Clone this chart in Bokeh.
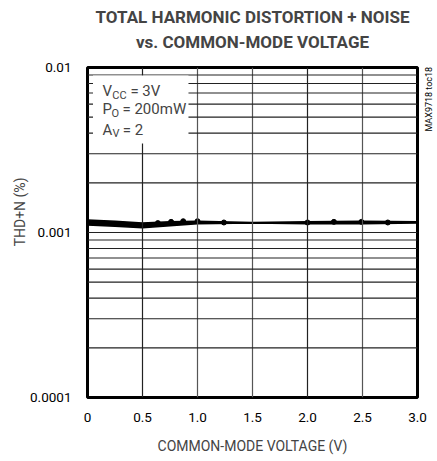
import math
from bokeh.plotting import figure
from bokeh.models import (FixedTicker, Label, BoxAnnotation, Span, Range1d, Title, LogAxis)
from bokeh.embed import file_html
from bokeh.resources import INLINE

# ---- data ----
vcm = [0.0, 0.25, 0.5, 0.75, 1.0, 1.5, 2.0, 2.5, 3.0]
thd_upper = [0.00119, 0.00117, 0.00114, 0.00116, 0.00117, 0.00115, 0.00116, 0.00117, 0.00116]
thd_lower = [0.00111, 0.00109, 0.00107, 0.00110, 0.00113, 0.00114, 0.00113, 0.00113, 0.00114]
dot_x = [0.64, 0.76, 0.87, 1.0, 1.24, 2.0, 2.24, 2.49, 2.73]
dot_y = [0.00114, 0.00116, 0.00117, 0.00117, 0.00115, 0.00115, 0.00116, 0.00116, 0.00115]
x_ticks = [0, 0.5, 1.0, 1.5, 2.0, 2.5, 3.0]
x_tick_labels = ["0", "0.5", "1.0", "1.5", "2.0", "2.5", "3.0"]
y_ticks = [0.0001, 0.001, 0.01]
y_tick_labels = ["0.0001", "0.001", "0.01"]

FONT = "Roboto"

p = figure(width=437, height=461, output_backend="svg", toolbar_location=None,
           y_axis_type="log", x_range=Range1d(0, 3), y_range=Range1d(0.0001, 0.01),
           min_border_left=87, min_border_right=20, min_border_top=67, min_border_bottom=64)
p.frame_width = 330
p.frame_height = 330

p.title = Title(text="TOTAL HARMONIC DISTORTION + NOISE", align="center",
                text_font=FONT, text_font_size="17px", text_font_style="bold", standoff=-26)
p.add_layout(Title(text="vs. COMMON-MODE VOLTAGE", align="center", text_font=FONT,
                   text_font_size="17px", text_font_style="bold", standoff=32), "above")

p.outline_line_color = "black"
p.outline_line_width = 3
p.xgrid.visible = False
p.ygrid.visible = False

# axes
p.xaxis.ticker = FixedTicker(ticks=x_ticks)
p.xaxis.major_label_overrides = {t: l for t, l in zip(x_ticks, x_tick_labels)}
p.yaxis.ticker = FixedTicker(ticks=y_ticks)
p.yaxis.major_label_overrides = {t: l for t, l in zip(y_ticks, y_tick_labels)}
for ax in (p.xaxis, p.yaxis):
    ax.axis_line_color = None
    ax.major_tick_line_color = None
    ax.minor_tick_line_color = None
    ax.major_label_text_font = FONT
    ax.major_label_text_font_size = "13.5px"
    ax.major_label_text_color = "black"
p.xaxis.major_label_standoff = 9
p.yaxis.major_label_standoff = 10
p.xaxis.axis_label = "COMMON-MODE VOLTAGE (V)"
p.xaxis.axis_label_text_font = FONT
p.xaxis.axis_label_text_font_size = "14px"
p.xaxis.axis_label_text_font_style = "normal"
p.xaxis.axis_label_standoff = 13

# y-axis title, shifted toward the top like the reference
p.add_layout(Title(text="THD+N (%)", align="right", offset=110, text_font=FONT,
                   text_font_size="14px", text_font_style="normal", standoff=0), "left")

# chart id on the right, reading upward
id_pos = [0.00409]
id_axis = LogAxis(ticker=FixedTicker(ticks=id_pos),
                  major_label_overrides={id_pos[0]: "MAX9718 toc18"},
                  major_label_orientation=math.pi / 2, major_label_standoff=6,
                  major_label_text_font=FONT, major_label_text_font_size="9px",
                  major_label_text_color="black",
                  axis_line_color=None, major_tick_line_color=None, minor_tick_line_color=None)
p.add_layout(id_axis, "right")

# grid lines
for i, xv in enumerate(x_ticks[1:-1]):
    p.add_layout(Span(location=xv, dimension="height",
                      line_color="#222222" if i % 3 == 0 else "#555555", line_width=1.2))
for dec in (0.0001, 0.001):
    for m in range(2, 10):
        p.add_layout(Span(location=dec * m, dimension="width", line_color="#222222", line_width=1.1))
p.add_layout(Span(location=0.001, dimension="width", line_color="#222222", line_width=1.2))

# white legend box
p.add_layout(BoxAnnotation(left=0.05, right=0.918, top=0.00894, bottom=0.00346,
                           fill_color="white", fill_alpha=1.0, line_color=None, level="overlay"))

# data
p.varea(x=vcm, y1=thd_lower, y2=thd_upper, fill_color="black")
p.line(vcm, thd_upper, line_color="black", line_width=1.5)
p.line(vcm, thd_lower, line_color="black", line_width=1.5)
p.scatter(dot_x, dot_y, size=5, color="black")


def txt(x, y, s, size="15px", yoff=0, **kw):
    p.add_layout(Label(x=x, y=y, text=s, text_font=FONT, text_font_size=size,
                       text_baseline="middle", y_offset=yoff, level="overlay", **kw))


# legend text with subscripts
txt(0.136, 0.0072, "V")
txt(0.225, 0.0072, "CC", "11px", -4)
txt(0.39, 0.0072, "= 3V")
txt(0.136, 0.0056, "P")
txt(0.218, 0.0056, "O", "11px", -4)
txt(0.318, 0.0056, "= 200mW")
txt(0.136, 0.0042, "A")
txt(0.227, 0.0042, "V", "11px", -4)
txt(0.32, 0.0042, "= 2")

open("out.html", "w").write(file_html(p, INLINE))
